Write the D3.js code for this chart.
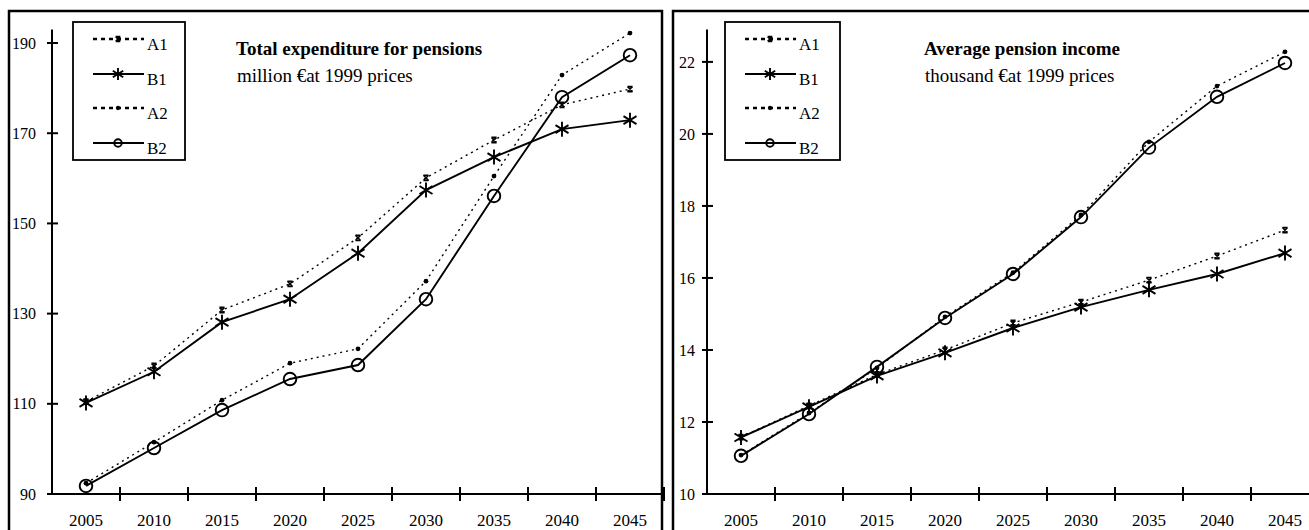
<!DOCTYPE html>
<html>
<head>
<meta charset="utf-8">
<script src="https://cdn.jsdelivr.net/npm/d3@7"></script>
<style>
  html, body { margin: 0; padding: 0; background: #fff; }
  svg { display: block; }
  text { font-family: "Liberation Serif", "Times New Roman", serif; fill: #000; }
</style>
</head>
<body>
<svg id="chart" width="1309" height="530"></svg>
<script>
// ---------- data ----------
const years = [2005, 2010, 2015, 2020, 2025, 2030, 2035, 2040, 2045];
const seriesNames = ["A1", "B1", "A2", "B2"];

// Total expenditure for pensions (million € at 1999 prices)
const expA1 = [110.5, 118.4, 130.8, 136.6, 146.8, 160.1, 168.5, 176.3, 179.8];
const expB1 = [110.2, 117.1, 128.1, 133.2, 143.4, 157.4, 164.7, 170.9, 172.9];
const expA2 = [92.4, 101.5, 110.8, 119.0, 122.2, 137.2, 160.5, 182.9, 192.2];
const expB2 = [91.8, 100.2, 108.6, 115.5, 118.6, 133.2, 156.1, 178.0, 187.3];
const expTicks = [90, 110, 130, 150, 170, 190];

// Average pension income (thousand € at 1999 prices)
const incA1 = [11.58, 12.45, 13.32, 14.0, 14.75, 15.33, 15.94, 16.61, 17.33];
const incB1 = [11.57, 12.42, 13.28, 13.92, 14.61, 15.19, 15.67, 16.11, 16.69];
const incA2 = [11.08, 12.25, 13.5, 14.92, 16.15, 17.75, 19.78, 21.33, 22.28];
const incB2 = [11.06, 12.22, 13.53, 14.89, 16.11, 17.69, 19.62, 21.03, 21.97];
const incTicks = [10, 12, 14, 16, 18, 20, 22];

const svg = d3.select("#chart");

// ---------- marker drawing ----------
function drawMarker(g, type, cx, cy, s) {
  if (type === "B1") { // asterisk
    const a = 7.5 * s, b = 6.5 * s, c = 4 * s;
    g.append("path")
      .attr("d", `M${cx},${cy - a}L${cx},${cy + a}M${cx - b},${cy - c}L${cx + b},${cy + c}M${cx - b},${cy + c}L${cx + b},${cy - c}`)
      .attr("stroke", "#000").attr("stroke-width", 1.9).attr("fill", "none");
  } else if (type === "B2") { // open circle
    g.append("circle").attr("cx", cx).attr("cy", cy).attr("r", 6.3 * s)
      .attr("fill", "none").attr("stroke", "#000").attr("stroke-width", 1.9);
  } else if (type === "A1") { // small hourglass x
    const r = 2.6 * s;
    g.append("path")
      .attr("d", `M${cx - r},${cy - r}L${cx + r},${cy + r}M${cx - r},${cy + r}L${cx + r},${cy - r}M${cx - r},${cy - r}L${cx + r},${cy - r}M${cx - r},${cy + r}L${cx + r},${cy + r}`)
      .attr("stroke", "#000").attr("stroke-width", 1.6).attr("fill", "none");
  } else if (type === "A2") { // small dot
    g.append("circle").attr("cx", cx).attr("cy", cy).attr("r", 2.4 * s).attr("fill", "#000");
  }
}

const lineStyle = {
  A1: { dash: "2,4", width: 1.4 },
  B1: { dash: null, width: 1.9 },
  A2: { dash: "2,4", width: 1.4 },
  B2: { dash: null, width: 1.9 }
};

// ---------- panel ----------
function panel(cfg) {
  const g = svg.append("g");

  // frame
  g.append("rect")
    .attr("x", cfg.frame[0]).attr("y", cfg.frame[1])
    .attr("width", cfg.frame[2]).attr("height", 600)
    .attr("fill", "none").attr("stroke", "#000").attr("stroke-width", 2.5);

  const x = d3.scaleBand().domain(years).range([cfg.x0, cfg.x0 + 68 * years.length]).padding(0);
  const y = d3.scaleLinear().domain(cfg.yDomain).range([494, 29.5]);
  const cx = d => x(d) + x.bandwidth() / 2;

  // y axis
  const yAxis = d3.axisLeft(y).tickValues(cfg.yTicks).tickSize(0).tickPadding(cfg.labelPad);
  const ya = g.append("g").attr("transform", `translate(${cfg.x0},0)`).call(yAxis);
  ya.select(".domain").remove();
  ya.selectAll("text").style("font-size", "16px").attr("font-family", null);
  g.append("line")
    .attr("x1", cfg.x0).attr("x2", cfg.x0)
    .attr("y1", y(cfg.yDomain[1])).attr("y2", y(cfg.yDomain[0]))
    .attr("stroke", "#000").attr("stroke-width", 2);
  g.selectAll(".ytick").data(cfg.yTicks).enter().append("line")
    .attr("x1", cfg.x0 - 5).attr("x2", cfg.x0 + 6)
    .attr("y1", d => y(d)).attr("y2", d => y(d))
    .attr("stroke", "#000").attr("stroke-width", 2);

  // x axis
  g.append("line")
    .attr("x1", cfg.x0 - 5).attr("x2", cfg.xEnd)
    .attr("y1", 494).attr("y2", 494)
    .attr("stroke", "#000").attr("stroke-width", 2);
  g.selectAll(".xtick").data(years).enter().append("line")
    .attr("x1", d => x(d) + x.bandwidth()).attr("x2", d => x(d) + x.bandwidth())
    .attr("y1", 487).attr("y2", 501)
    .attr("stroke", "#000").attr("stroke-width", 2);
  g.selectAll(".xlab").data(years).enter().append("text")
    .attr("x", d => cx(d)).attr("y", 526)
    .attr("text-anchor", "middle").style("font-size", "17px")
    .text(d => d);

  // series
  const line = d3.line().x((d, i) => cx(years[i])).y(d => y(d));
  seriesNames.forEach(name => {
    const vals = cfg.data[name];
    const st = lineStyle[name];
    g.append("path").datum(vals).attr("d", line)
      .attr("fill", "none").attr("stroke", "#000")
      .attr("stroke-width", st.width)
      .attr("stroke-dasharray", st.dash);
  });
  seriesNames.forEach(name => {
    const vals = cfg.data[name];
    vals.forEach((v, i) => drawMarker(g, name, cx(years[i]), y(v), 1));
  });

  // title
  g.append("text").attr("x", cfg.titleX).attr("y", 55)
    .style("font-size", "19px").style("font-weight", "bold").text(cfg.title);
  g.append("text").attr("x", cfg.titleX + 1).attr("y", 82)
    .style("font-size", "19px").text(cfg.subtitle);

  // legend
  const lx = cfg.legend[0], ly = 22;
  g.append("rect").attr("x", lx).attr("y", ly).attr("width", cfg.legend[1]).attr("height", 138)
    .attr("fill", "#fff").attr("stroke", "#000").attr("stroke-width", 1.8);
  const legY = [17, 52, 86, 121];
  seriesNames.forEach((name, i) => {
    const yy = ly + legY[i];
    g.append("line").attr("x1", lx + 20).attr("x2", lx + 71).attr("y1", yy).attr("y2", yy)
      .attr("stroke", "#000").attr("stroke-width", name[0] === "A" ? 2.4 : 1.8)
      .attr("stroke-dasharray", name[0] === "A" ? "4,4" : null);
    drawMarker(g, name, lx + 45, yy, name === "B2" ? 0.6 : (name === "B1" ? 0.8 : 0.9));
    g.append("text").attr("x", lx + 74).attr("y", yy + 11).style("font-size", "17px").text(name);
  });
}

panel({
  frame: [9, 11, 653],
  x0: 52, xEnd: 662,
  yDomain: [90, 193], yTicks: expTicks, labelPad: 16,
  data: { A1: expA1, B1: expB1, A2: expA2, B2: expB2 },
  title: "Total expenditure for pensions",
  subtitle: "million €at 1999 prices",
  titleX: 236,
  legend: [73, 112]
});

panel({
  frame: [673, 11, 645],
  x0: 707, xEnd: 1309,
  yDomain: [10, 22.9], yTicks: incTicks, labelPad: 12,
  data: { A1: incA1, B1: incB1, A2: incA2, B2: incB2 },
  title: "Average pension income",
  subtitle: "thousand €at 1999 prices",
  titleX: 924,
  legend: [725, 115]
});
</script>
</body>
</html>
